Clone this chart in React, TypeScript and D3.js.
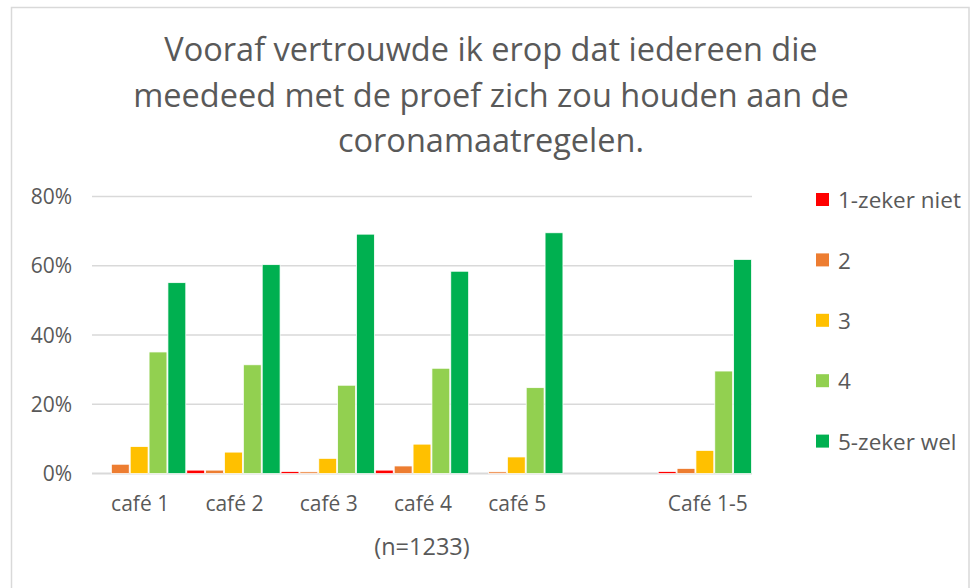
import React from "react";
import * as d3 from "d3";

const titleLines = [
  "Vooraf vertrouwde ik erop dat iedereen die",
  "meedeed  met de proef zich zou houden aan de",
  "coronamaatregelen.",
];
const categories = ["café 1", "café 2", "café 3", "café 4", "café 5", "", "Café 1-5"];
const seriesNames = ["1-zeker niet", "2", "3", "4", "5-zeker wel"];
const seriesColors = ["#FF0000", "#ED7D31", "#FFC000", "#92D050", "#00B050"];
const zekerNiet = [0, 1.0, 0.6, 1.0, 0, null, 0.6];
const score2 = [2.7, 1.0, 0.5, 2.2, 0.5, null, 1.5];
const score3 = [7.8, 6.2, 4.4, 8.5, 4.8, null, 6.7];
const score4 = [35.1, 31.4, 25.5, 30.4, 24.8, null, 29.6];
const zekerWel = [55.1, 60.3, 69.1, 58.4, 69.5, null, 61.8];
const seriesValues = [zekerNiet, score2, score3, score4, zekerWel];
const yTicks = [0, 20, 40, 60, 80];
const xAxisTitle = "(n=1233)";

const W = 975;
const H = 588;
const plot = { left: 92, right: 752, top: 196.4, bottom: 473.6 };
const textColor = "#595959";
const font = "'Open Sans', 'Noto Sans', sans-serif";

export default function App() {
  const x0 = d3.scaleBand<string>().domain(categories).range([plot.left, plot.right]).padding(0);
  const x1 = d3
    .scaleBand<string>()
    .domain(seriesNames)
    .range([0, x0.bandwidth()])
    .padding(0);
  const y = d3.scaleLinear().domain([0, 80]).range([plot.bottom, plot.top]);

  return (
    <svg
      width={W}
      height={H}
      style={{ position: "absolute", left: 0, top: 0, background: "#fff" }}
    >
      <rect x={0} y={0} width={W} height={H} fill="#fff" />
      <rect x={11.5} y={7.5} width={957.5} height={620} fill="none" stroke="#D9D9D9" strokeWidth={1.5} />

      {titleLines.map((t, i) => (
        <text
          key={i}
          x={491}
          y={61 + i * 45.5}
          textAnchor="middle"
          fontFamily={font}
          fontSize={32.5}
          fill={textColor}
        >
          {t}
        </text>
      ))}

      {yTicks.map((t) => (
        <g key={t}>
          <line
            x1={plot.left}
            x2={plot.right}
            y1={y(t)}
            y2={y(t)}
            stroke="#D9D9D9"
            strokeWidth={t === 0 ? 2 : 1.5}
          />
          <text
            x={72}
            y={y(t)}
            dy="0.36em"
            textAnchor="end"
            fontFamily={font}
            fontSize={21}
            fill={textColor}
          >
            {t + "%"}
          </text>
        </g>
      ))}

      {seriesValues.map((vals, si) => (
        <g key={si}>
          {categories.map((c, ci) => {
            const v = vals[ci];
            if (v === null || v === undefined || v <= 0) return null;
            const bx = (x0(c) ?? 0) + (x1(seriesNames[si]) ?? 0);
            return (
              <rect
                key={ci}
                x={bx + 0.5}
                y={y(v)}
                width={x1.bandwidth() - 1}
                height={plot.bottom - y(v)}
                fill={seriesColors[si]}
                stroke="#fff"
                strokeWidth={0.75}
              />
            );
          })}
        </g>
      ))}

      {categories.map((c) =>
        c ? (
          <text
            key={c}
            x={(x0(c) ?? 0) + x0.bandwidth() / 2 + (c === "Café 1-5" ? 3 : 1)}
            y={511}
            textAnchor="middle"
            fontFamily={font}
            fontSize={21}
            fill={textColor}
          >
            {c}
          </text>
        ) : null
      )}

      <text
        x={(plot.left + plot.right) / 2}
        y={555}
        textAnchor="middle"
        fontFamily={font}
        fontSize={23.5}
        fill={textColor}
      >
        {xAxisTitle}
      </text>

      {seriesNames.map((s, i) => (
        <g key={s} transform={`translate(816, ${200 + i * 60.4})`}>
          <rect x={0} y={-7} width={13} height={13} fill={seriesColors[i]} />
          <text x={22} y={0} dy="0.36em" fontFamily={font} fontSize={22.5} fill={textColor}>
            {s}
          </text>
        </g>
      ))}
    </svg>
  );
}
